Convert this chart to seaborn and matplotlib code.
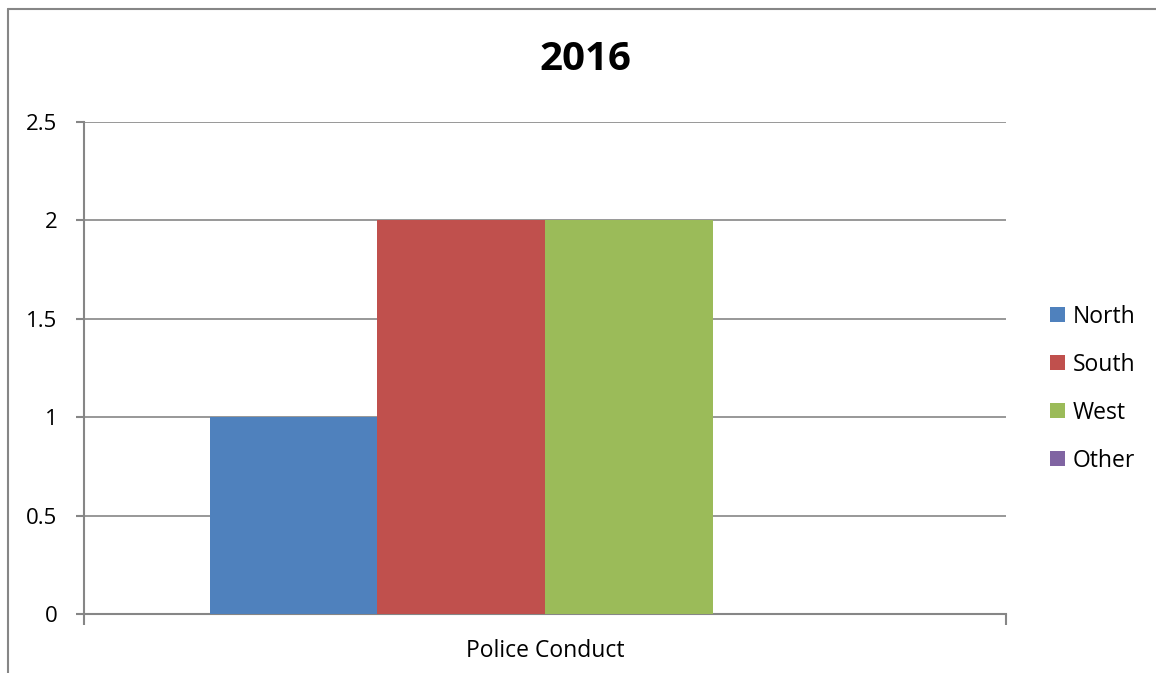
import pandas as pd
import matplotlib
matplotlib.use("Agg")
import matplotlib.pyplot as plt
from matplotlib.lines import Line2D
import seaborn as sns

# data
categories = ["Police Conduct"]
regions = ["North", "South", "West", "Other"]
values = [1, 2, 2, 0]
colors = ["#4F81BD", "#C0504D", "#9BBB59", "#8064A2"]

df = pd.DataFrame({
    "category": categories * len(regions),
    "region": regions,
    "value": values,
})

sns.set_style("white")
plt.rcParams["font.family"] = ["Open Sans", "DejaVu Sans"]
plt.rcParams["text.color"] = "black"
plt.rcParams["xtick.color"] = "black"
plt.rcParams["ytick.color"] = "black"

fig = plt.figure(figsize=(11.56, 6.73), dpi=100)
ax = fig.add_axes([84 / 1156, 1 - 614 / 673, (1006 - 84) / 1156, (614 - 122) / 673])

sns.barplot(data=df, x="category", y="value", hue="region", hue_order=regions,
            palette=colors, width=0.727, saturation=1, linewidth=0, ax=ax, zorder=3)

grid_c = "#868686"
ax.set_ylim(0, 2.5)
ax.set_xlim(-0.5, 0.5)
ax.set_yticks([0, 0.5, 1, 1.5, 2, 2.5])
ax.set_yticklabels(["0", "0.5", "1", "1.5", "2", "2.5"])
ax.yaxis.grid(True, color=grid_c, linewidth=1.2)
ax.set_axisbelow(True)
ax.set_xlabel("")
ax.set_ylabel("")

# x ticks only at the category edges, label centred
ax.set_xticks([-0.5, 0.5])
ax.set_xticklabels(["", ""])
ax.set_xticks([0], minor=True)
ax.set_xticklabels(categories, minor=True)
ax.tick_params(axis="x", which="minor", bottom=True, length=0, pad=18, labelsize=16.5)
ax.tick_params(axis="x", which="major", bottom=True, length=8, width=1.5, color=grid_c,
               direction="out")
ax.tick_params(axis="y", left=True, length=6, width=1.5, color=grid_c, direction="out",
               labelsize=16, pad=13)

for s in ["top", "right"]:
    ax.spines[s].set_visible(False)
for s in ["left", "bottom"]:
    ax.spines[s].set_color(grid_c)
    ax.spines[s].set_linewidth(1.5)

ax.legend(loc="center left", bbox_to_anchor=(1.025, 0.458), frameon=False,
          fontsize=16.5, handlelength=0.65, handleheight=0.65, handletextpad=0.35,
          labelspacing=1.05)

fig.text(0.506, 0.911, "2016", ha="center", va="center", fontsize=29, fontweight="bold")

# chart area border (top and left edges visible)
fig.add_artist(Line2D([8 / 1156, 1.01], [1 - 9 / 673, 1 - 9 / 673], color=grid_c, linewidth=1.5,
                      transform=fig.transFigure))
fig.add_artist(Line2D([8 / 1156, 8 / 1156], [-0.01, 1 - 9 / 673], color=grid_c, linewidth=1.5,
                      transform=fig.transFigure))

fig.savefig("out.png", dpi=100, facecolor="white")
